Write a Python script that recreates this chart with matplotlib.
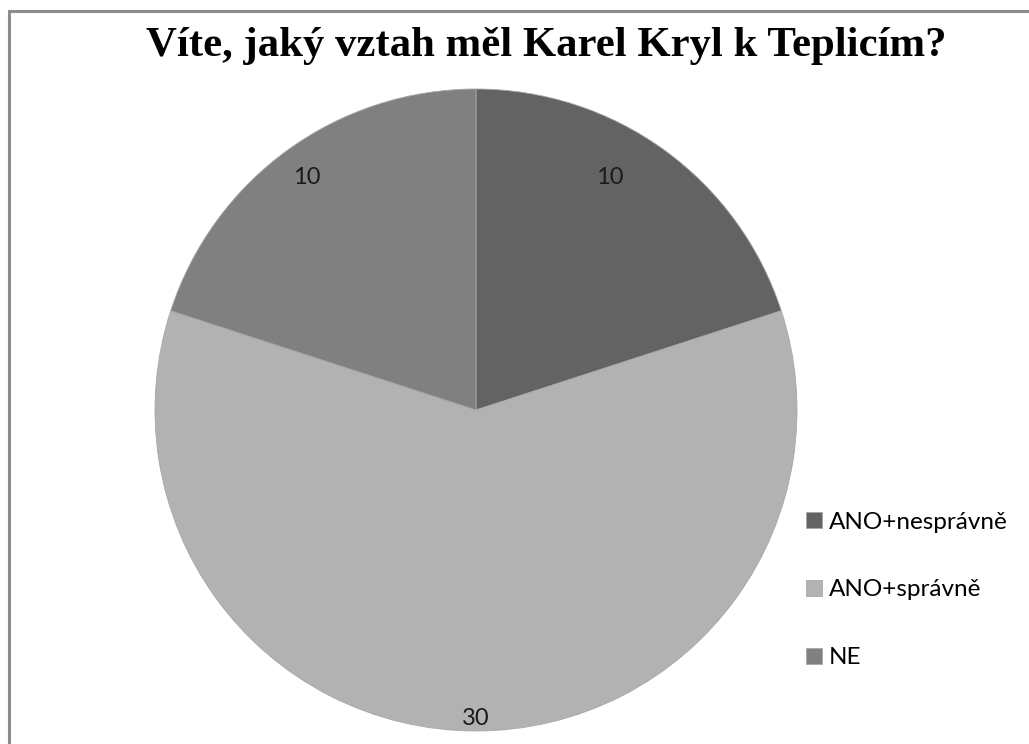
import matplotlib
matplotlib.use("Agg")
import matplotlib.pyplot as plt
import numpy as np
from matplotlib.patches import Rectangle

labels = ["ANO+nesprávně", "ANO+správně", "NE"]
values = [10, 30, 10]
colors = ["#636363", "#b2b2b2", "#808080"]
title = "Víte, jaký vztah měl Karel Kryl k Teplicím?"

fig = plt.figure(figsize=(10.29, 7.44), dpi=100)

# grey chart-area border (right and bottom sides fall outside the image)
fig.patches.append(
    Rectangle((9 / 1029, -0.05), 1.1, (744 - 11) / 744 + 0.05,
              transform=fig.transFigure, fill=False,
              edgecolor="#8c8c8c", linewidth=2.2)
)

ax = fig.add_axes([155 / 1029, 13 / 744, 642 / 1029, 642 / 744])
wedges, texts, autotexts = ax.pie(
    values,
    colors=colors,
    startangle=90,
    counterclock=False,
    radius=1.0,
    autopct=lambda p: f"{p * sum(values) / 100:.0f}",
    pctdistance=0.87,
    wedgeprops=dict(linewidth=0.6, edgecolor="#a8a8a8"),
    textprops=dict(fontsize=17, family="Lato", color="#1a1a1a"),
)
ax.set_xlim(-1, 1)
ax.set_ylim(-1, 1)
ax.set_aspect("equal")

# label placement roughly as Excel put them
dist = [0.835, 0.96, 0.895]
shift = [6, 0, 0]
for w, t, d, s in zip(wedges, autotexts, dist, shift):
    ang = np.deg2rad((w.theta1 + w.theta2) / 2 + s)
    t.set_position((d * np.cos(ang), d * np.sin(ang)))

fig.text(546 / 1029, 1 - 46 / 744, title, ha="center", va="center",
         fontsize=30.8, fontweight="bold", family="Liberation Serif")

fig.legend(
    wedges, labels,
    loc="center left",
    bbox_to_anchor=(806 / 1029, 1 - 590 / 744),
    frameon=False,
    borderpad=0,
    borderaxespad=0,
    handlelength=0.65,
    handleheight=0.65,
    handletextpad=0.3,
    labelspacing=1.92,
    prop=dict(family="Lato", size=17.5),
)

plt.savefig("out.png", dpi=100)
